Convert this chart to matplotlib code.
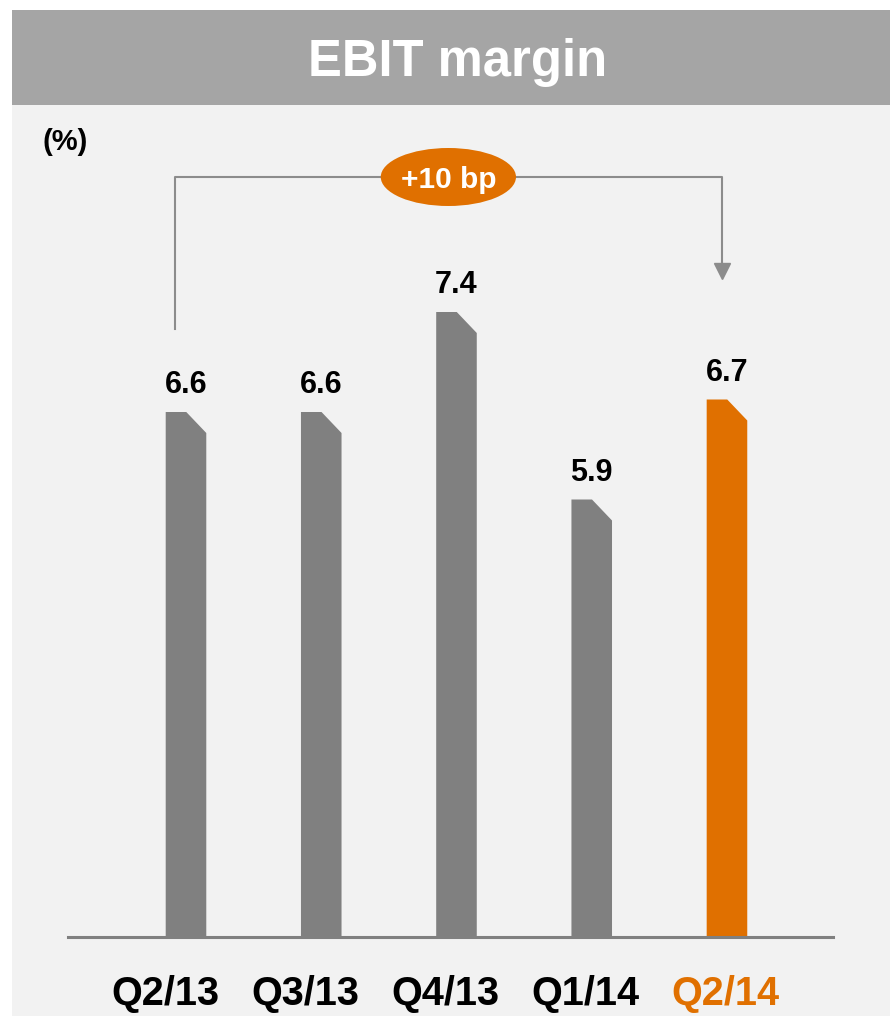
import numpy as np
import matplotlib
matplotlib.use('Agg')
import matplotlib.pyplot as plt
from matplotlib.patches import Polygon, Rectangle, Ellipse

# data
quarters = ['Q2/13', 'Q3/13', 'Q4/13', 'Q1/14', 'Q2/14']
margin = [6.6, 6.6, 7.4, 5.9, 6.7]
change_label = '+10 bp'
title = 'EBIT margin'
unit_label = '(%)'

GREY = '#808080'
ORANGE = '#e07000'
LINE = '#8c8c8c'
colors = [GREY] * (len(quarters) - 1) + [ORANGE]

plt.rcParams['font.family'] = ['Liberation Sans', 'DejaVu Sans']

W, H = 890, 1016
fig = plt.figure(figsize=(W / 100, H / 100), dpi=100, facecolor='white')

# slide background + title banner
fig.add_artist(Rectangle((12 / W, 0), 1 - 12 / W, 1 - 10 / H, transform=fig.transFigure,
                         facecolor='#f2f2f2', edgecolor='none', zorder=0))
fig.add_artist(Rectangle((12 / W, 1 - 105 / H), 1 - 12 / W, 95 / H, transform=fig.transFigure,
                         facecolor='#a5a5a5', edgecolor='none', zorder=0))
fig.text(458 / W, 1 - 76 / H, title, ha='center', va='baseline', color='white',
         fontsize=36.5, fontweight='bold')
fig.text(42 / W, 1 - 150 / H, unit_label, ha='left', va='baseline', color='black',
         fontsize=21, fontweight='bold')

ax = fig.add_axes([68 / W, 79 / H, 765 / W, 807 / H])
ax.set_facecolor('none')
ybase = 2.4
ax.set_xlim(-0.8725, 4.784)
ax.set_ylim(ybase, ybase + 807 / 125)
for s in ['top', 'left', 'right']:
    ax.spines[s].set_visible(False)
ax.spines['bottom'].set_color(GREY)
ax.spines['bottom'].set_linewidth(2.2)
ax.set_xticks([])
ax.set_yticks([])

# bars with clipped top-right corner
x = np.arange(len(quarters))
bw = 0.30
cut_x, cut_y = 0.148, 0.168
for xi, v, c in zip(x, margin, colors):
    l, r = xi - bw / 2, xi + bw / 2
    ax.add_patch(Polygon([(l, ybase), (l, v), (r - cut_x, v), (r, v - cut_y), (r, ybase)],
                         closed=True, facecolor=c, edgecolor='none', zorder=2))
    ax.text(xi, v + 0.15, f'{v:.1f}', ha='center', va='baseline', fontsize=22,
            fontweight='bold', color='black')

# category labels
for xi, q, c in zip(x, quarters, colors):
    ax.text(xi * 1.035 - 0.155, -0.084, q, transform=ax.get_xaxis_transform(),
            ha='center', va='baseline', fontsize=28.5, fontweight='bold',
            color='black' if c == GREY else ORANGE)

# bracket from first to last quarter
xl, xr = x[0] - 0.08, x[-1] - 0.04
ytop = 8.48
ax.plot([xl, xl, xr, xr], [7.26, ytop, ytop, 7.75], color=LINE, lw=1.5,
        clip_on=False, zorder=1)
ax.plot(xr, 7.73, marker='v', ms=11, color=LINE, clip_on=False, zorder=1)
xm = (xl + xr) / 2
ax.add_patch(Ellipse((xm, ytop), 1.0, 0.464, facecolor=ORANGE, edgecolor='none',
                     clip_on=False, zorder=3))
ax.text(xm, ytop, change_label, ha='center', va='center_baseline', fontsize=21.5,
        fontweight='bold', color='white', zorder=4)

plt.savefig('out.png', dpi=100, facecolor=fig.get_facecolor())
